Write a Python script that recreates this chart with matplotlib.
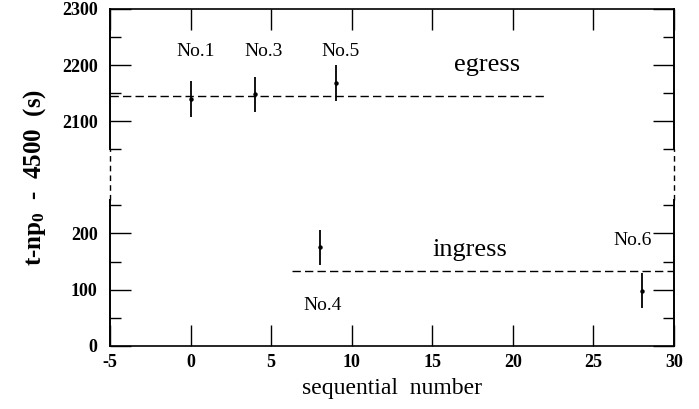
import numpy as np
import matplotlib
matplotlib.use("Agg")
import matplotlib.pyplot as plt
from matplotlib.ticker import FixedLocator

# data
seq = [0, 4, 9, 8, 28]
oc = [2140, 2148, 2168, 175, 98]
err = [32, 31, 32, 31, 31]
names = ["No.1", "No.3", "No.5", "No.4", "No.6"]
label_x = [0.3, 4.5, 9.3, 8.2, 27.4]
label_y = [2225, 2225, 2225, 72, 187]
egress_level = 2145
egress_range = [-5, 22]
ingress_level = 133
ingress_range = [6.3, 30]
xticks = [-5, 0, 5, 10, 15, 20, 25, 30]
yticks = [0, 100, 200, 2100, 2200, 2300]
yminor = [50, 150, 250, 2050, 2150, 2250]

SHIFT = 1700.0
def fwd(y):
    y = np.asarray(y, dtype=float)
    return np.where(y > 1000, y - SHIFT, y)
def inv(u):
    u = np.asarray(u, dtype=float)
    return np.where(u > 300, u + SHIFT, u)

plt.rcParams['font.family'] = ['Liberation Serif', 'DejaVu Serif']
plt.rcParams['mathtext.fontset'] = 'custom'
plt.rcParams['mathtext.rm'] = 'Liberation Serif:bold'
plt.rcParams['mathtext.it'] = 'Liberation Serif:bold'
plt.rcParams['mathtext.bf'] = 'Liberation Serif:bold'

fig = plt.figure(figsize=(6.99, 4.09), dpi=100)
ax = fig.add_axes([0.1574, 0.1548, 0.8069, 0.8232])
ax.set_yscale('function', functions=(fwd, inv))
ax.set_xlim(-5, 30)
ax.set_ylim(0, 2300)

ax.errorbar(seq, oc, yerr=err, fmt='o', ms=2.2, color='black', ecolor='black',
            elinewidth=1.3, capsize=0)
ax.plot(egress_range, [egress_level]*2, ls=(0, (6, 3)), color='black', lw=1.0)
ax.plot(ingress_range, [ingress_level]*2, ls=(0, (6, 3)), color='black', lw=1.0)

for n, lx, ly in zip(names, label_x, label_y):
    ax.text(lx, ly, n, ha='center', va='center', fontsize=14)
ax.text(18.4, 2200, "egress", ha='center', va='center', fontsize=19)
ax.text(17.3, 170, "ingress", ha='center', va='center', fontsize=19)

# spines: left/right broken
for side in ['left', 'right']:
    ax.spines[side].set_visible(False)
for s in ['top', 'bottom']:
    ax.spines[s].set_linewidth(1.2)
ytr = ax.get_yaxis_transform()
for xs in [0, 1]:
    ax.plot([xs, xs], [0, 260], color='black', lw=1.4, transform=ytr, clip_on=False)
    ax.plot([xs, xs], [2050, 2300], color='black', lw=1.4, transform=ytr, clip_on=False)
    ax.plot([xs, xs], [260, 2050], color='black', lw=1.0, ls=(0, (4, 3)),
            transform=ytr, clip_on=False)

ax.xaxis.set_major_locator(FixedLocator(xticks))
ax.yaxis.set_major_locator(FixedLocator(yticks))
ax.yaxis.set_minor_locator(FixedLocator(yminor))
ax.xaxis.set_minor_locator(FixedLocator([]))
ax.tick_params(axis='both', which='major', direction='in', length=15, width=1.0,
               top=True, right=True)
ax.tick_params(axis='both', which='minor', direction='in', length=8, width=1.0,
               right=True)
ax.set_yticklabels([str(t) for t in yticks], fontweight='bold', fontsize=13)
ax.set_xticklabels([str(t) for t in xticks], fontweight='bold', fontsize=13)
ax.tick_params(axis='x', pad=6)
ax.tick_params(axis='y', pad=9)

ax.set_xlabel("sequential  number", fontsize=17, labelpad=5)
ax.set_ylabel(r"t-np$_\mathregular{0}$  -  4500  (s)", fontsize=18, fontweight='bold',
              labelpad=10)

fig.savefig("out.png", dpi=100)
